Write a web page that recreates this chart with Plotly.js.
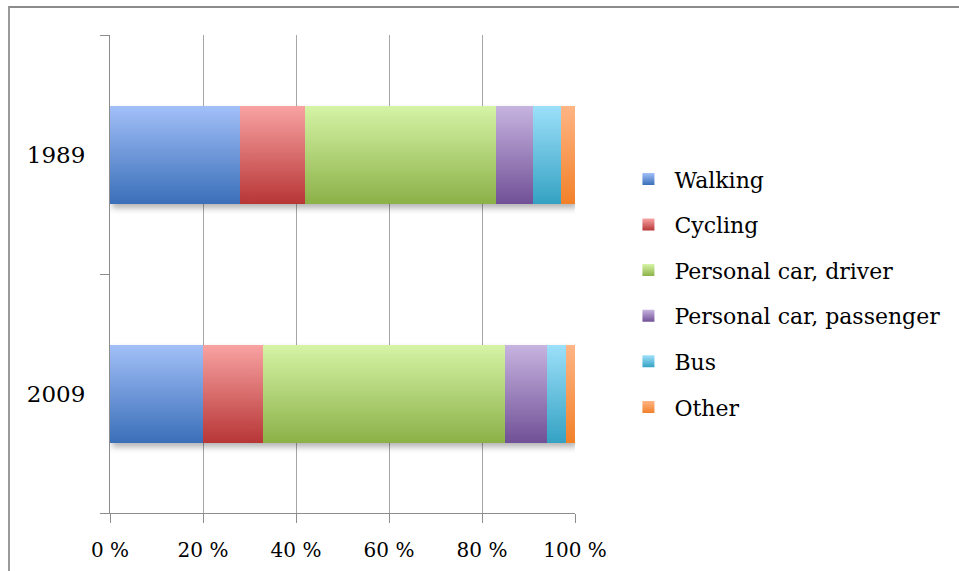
<!DOCTYPE html>
<html>
<head>
<meta charset="utf-8">
<script src="https://cdn.plot.ly/plotly-3.0.1.min.js"></script>
<style>
  html, body { margin: 0; padding: 0; background: #fff; }
  #wrap { position: relative; width: 959px; height: 571px; overflow: hidden; }
  #frame { position: absolute; left: 8px; top: 6px; right: -10px; bottom: -10px;
           border-top: 2px solid #8c8c8c; border-left: 2px solid #9a9a9a; }
  #chart { position: absolute; left: 0; top: 0; width: 959px; height: 571px; }
</style>
</head>
<body>
<div id="wrap">
  <div id="frame"></div>
  <div id="chart"></div>
</div>
<script>
// ---- data ----
const years = ["1989", "2009"];
const modes = ["Walking", "Cycling", "Personal car, driver", "Personal car, passenger", "Bus", "Other"];
const walking   = [28, 20];
const cycling   = [14, 13];
const carDriver = [41, 52];
const carPass   = [8, 9];
const bus       = [6, 4];
const other     = [3, 2];
const xTicks = [0, 20, 40, 60, 80, 100];
const xTickLabels = ["0 %", "20 %", "40 %", "60 %", "80 %", "100 %"];

// ---- styles ----
const seriesValues = [walking, cycling, carDriver, carPass, bus, other];
const topColors = ["#a3c0f8", "#f9a3a3", "#d6f4a6", "#c7b4e0", "#9de0fa", "#ffb585"];
const botColors = ["#3a6fb9", "#b83636", "#8cb148", "#715197", "#35a2c3", "#f2812a"];
const midColors = ["#6d97d8", "#d86c6c", "#b1d277", "#9c83bc", "#69c1de", "#f99b57"];

const FONT = "DejaVu Serif";

const traces = modes.map((m, i) => ({
  type: "bar",
  orientation: "h",
  name: m,
  y: years,
  x: seriesValues[i],
  legendgroup: "g" + i,
  marker: { color: midColors[i], line: { width: 0 } },
  hoverinfo: "skip"
}));

const layout = {
  width: 959,
  height: 571,
  margin: { l: 110, r: 384, t: 35, b: 58 },
  paper_bgcolor: "rgba(0,0,0,0)",
  plot_bgcolor: "rgba(0,0,0,0)",
  barmode: "stack",
  bargap: 0.59,
  font: { family: FONT, size: 20, color: "#000" },
  showlegend: true,
  legend: {
    x: 1.102, xanchor: "left",
    y: 0.46, yanchor: "middle",
    traceorder: "grouped",
    tracegroupgap: 14,
    itemwidth: 42,
    font: { family: FONT, size: 22, color: "#000" },
    bgcolor: "rgba(0,0,0,0)",
    itemclick: false
  },
  xaxis: {
    range: [0, 100],
    tickvals: xTicks,
    ticktext: xTickLabels,
    showgrid: true,
    gridcolor: "#a6a6a6",
    gridwidth: 1,
    zeroline: false,
    showline: true,
    linecolor: "#8c8c8c",
    linewidth: 1,
    ticks: "outside",
    ticklen: 9,
    tickcolor: "#8c8c8c",
    tickfont: { family: FONT, size: 20, color: "#000" },
    ticklabelstandoff: 10,
    fixedrange: true
  },
  yaxis: {
    type: "category",
    categoryorder: "array",
    categoryarray: ["2009", "1989"],
    range: [-0.5, 1.5],
    tickson: "boundaries",
    ticks: "outside",
    ticklen: 9,
    tickcolor: "#8c8c8c",
    showgrid: false,
    zeroline: false,
    showline: true,
    linecolor: "#8c8c8c",
    linewidth: 1,
    tickfont: { family: FONT, size: 23, color: "#000" },
    ticklabelstandoff: 19,
    fixedrange: true
  }
};

Plotly.newPlot("chart", traces, layout, { staticPlot: true, displayModeBar: false }).then(gd => {
  const svg = gd.querySelector("svg.main-svg");
  const NS = "http://www.w3.org/2000/svg";
  let defs = svg.querySelector("defs");
  if (!defs) { defs = document.createElementNS(NS, "defs"); svg.insertBefore(defs, svg.firstChild); }
  topColors.forEach((c, i) => {
    const g = document.createElementNS(NS, "linearGradient");
    g.setAttribute("id", "grad" + i);
    g.setAttribute("x1", "0"); g.setAttribute("y1", "0");
    g.setAttribute("x2", "0"); g.setAttribute("y2", "1");
    const s1 = document.createElementNS(NS, "stop");
    s1.setAttribute("offset", "0"); s1.setAttribute("stop-color", c);
    const s2 = document.createElementNS(NS, "stop");
    s2.setAttribute("offset", "1"); s2.setAttribute("stop-color", botColors[i]);
    g.appendChild(s1); g.appendChild(s2);
    defs.appendChild(g);
  });
  const f = document.createElementNS(NS, "filter");
  f.setAttribute("id", "shadow");
  f.setAttribute("x", "-10%"); f.setAttribute("y", "-10%");
  f.setAttribute("width", "130%"); f.setAttribute("height", "140%");
  const ds = document.createElementNS(NS, "feDropShadow");
  ds.setAttribute("dx", "2"); ds.setAttribute("dy", "4");
  ds.setAttribute("stdDeviation", "3"); ds.setAttribute("flood-color", "#000");
  ds.setAttribute("flood-opacity", "0.3");
  f.appendChild(ds); defs.appendChild(f);

  gd.querySelectorAll(".barlayer .trace").forEach(t => {
    const idx = t.__data__ && t.__data__[0] ? t.__data__[0].trace.index : null;
    if (idx === null) return;
    t.querySelectorAll("path").forEach(p => { p.style.fill = "url(#grad" + idx + ")"; });
  });
  const bl = gd.querySelector(".barlayer");
  if (bl) bl.setAttribute("filter", "url(#shadow)");
  gd.querySelectorAll(".legend .traces").forEach(t => {
    const idx = t.__data__ && t.__data__[0] ? t.__data__[0].trace.index : null;
    if (idx === null) return;
    t.querySelectorAll(".legendpoints path").forEach(p => { p.style.fill = "url(#grad" + idx + ")"; });
  });
});
</script>
</body>
</html>
